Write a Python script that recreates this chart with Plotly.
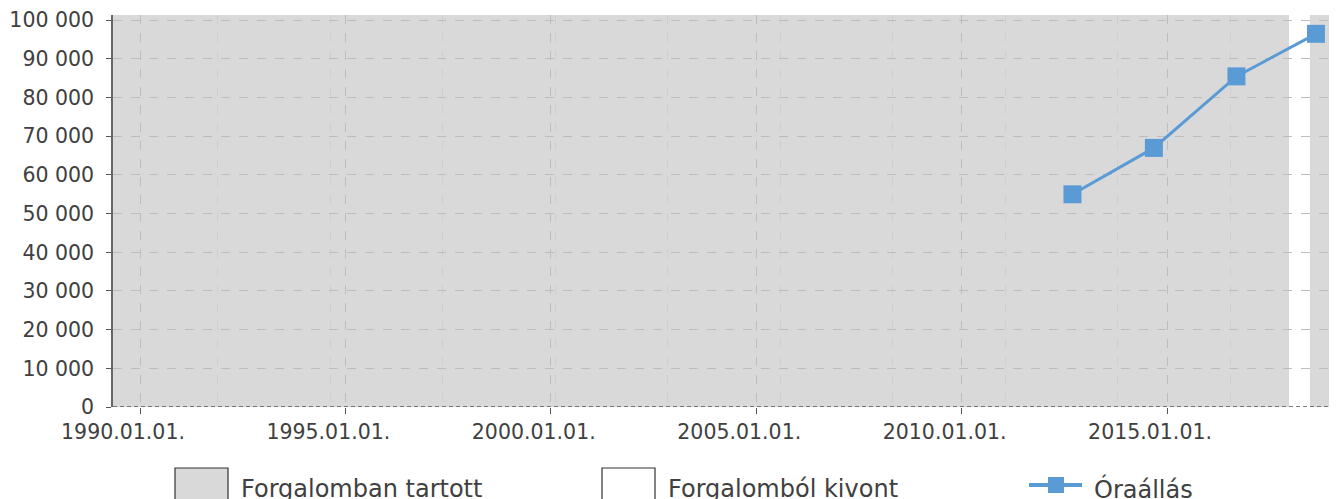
import plotly.graph_objects as go

# ---- data ----
reading_dates = ["2012-09-12", "2014-09-06", "2016-09-09", "2018-08-17"]
hour_meter = [55000, 67000, 85500, 96500]

in_service_periods = [("1989-05-06", "2017-12-21"), ("2018-06-23", "2019-02-20")]
withdrawn_periods = [("2017-12-21", "2018-06-23")]

x_tick_vals = ["1990-01-01", "1995-01-01", "2000-01-01", "2005-01-01", "2010-01-01", "2015-01-01"]
x_tick_text = ["1990.01.01.", "1995.01.01.", "2000.01.01.", "2005.01.01.", "2010.01.01.", "2015.01.01."]
y_tick_vals = [0, 10000, 20000, 30000, 40000, 50000, 60000, 70000, 80000, 90000, 100000]
y_tick_text = ["0", "10 000", "20 000", "30 000", "40 000", "50 000", "60 000",
               "70 000", "80 000", "90 000", "100 000"]

legend_labels = ["Forgalomban tartott", "Forgalomból kivont", "Óraállás"]

# ---- styles ----
OFF = 8  # page body margin
W, H = 1337 - OFF, 499 - OFF
ML, MR, MT = 113 - OFF, 0, 15 - OFF
PB = 407 - OFF
MB = H - PB
PW, PH = W - ML - MR, H - MT - MB
GRAY = "#d9d9d9"
BLUE = "#5b9bd5"
TXT = "#404040"
FONT = "DejaVu Sans"


def px_x(p):
    return (p - OFF - ML) / PW


def px_y(p):
    return (PB - (p - OFF)) / PH


fig = go.Figure()

fig.add_trace(go.Scatter(
    x=reading_dates, y=hour_meter, mode="lines+markers",
    line=dict(color=BLUE, width=3),
    marker=dict(symbol="square", size=18, color=BLUE, line=dict(width=0)),
    name=legend_labels[2], showlegend=False, cliponaxis=False,
))

shapes = []
for a, b in in_service_periods:
    shapes.append(dict(type="rect", xref="x", yref="paper", x0=a, x1=b, y0=0, y1=1,
                       fillcolor=GRAY, line=dict(width=0), layer="below"))
for a, b in withdrawn_periods:
    shapes.append(dict(type="rect", xref="x", yref="paper", x0=a, x1=b, y0=0, y1=1,
                       fillcolor="white", line=dict(width=0), layer="below"))
# dashed baseline
shapes.append(dict(type="line", xref="paper", yref="y", x0=0, x1=1, y0=0, y1=0,
                   line=dict(color="#555555", width=1.5, dash="4px,3px"), layer="above"))

# custom legend
box_top, box_bot = 468, 503
shapes.append(dict(type="rect", xref="paper", yref="paper",
                   x0=px_x(175), x1=px_x(228), y0=px_y(box_bot), y1=px_y(box_top),
                   fillcolor=GRAY, line=dict(color="#333333", width=1.2)))
shapes.append(dict(type="rect", xref="paper", yref="paper",
                   x0=px_x(602), x1=px_x(655), y0=px_y(box_bot), y1=px_y(box_top),
                   fillcolor="white", line=dict(color="#333333", width=1.2)))
shapes.append(dict(type="line", xref="paper", yref="paper",
                   x0=px_x(1029), x1=px_x(1082), y0=px_y(485), y1=px_y(485),
                   line=dict(color=BLUE, width=4)))
shapes.append(dict(type="rect", xref="paper", yref="paper",
                   x0=px_x(1048), x1=px_x(1064), y0=px_y(493), y1=px_y(477),
                   fillcolor=BLUE, line=dict(width=0)))

annotations = []
for lbl, xp in zip(legend_labels, [242, 669, 1095]):
    annotations.append(dict(text=lbl, xref="paper", yref="paper", x=px_x(xp - 3), y=px_y(489),
                            xanchor="left", yanchor="middle", showarrow=False,
                            font=dict(family=FONT, size=24, color=TXT)))

fig.update_layout(
    width=W, height=H,
    margin=dict(l=ML, r=MR, t=MT, b=MB, pad=0),
    paper_bgcolor="white", plot_bgcolor="white",
    showlegend=False,
    shapes=shapes, annotations=annotations,
    font=dict(family=FONT, size=20.5, color=TXT),
)

fig.update_xaxes(
    type="date", range=["1989-05-06", "2019-02-20"],
    tickvals=x_tick_vals, ticktext=x_tick_text,
    ticks="outside", ticklen=6, tickcolor="#555555", tickwidth=1,
    ticklabelshift=-17,
    showgrid=True, gridcolor="#bdbdbd", griddash="dash", gridwidth=1,
    minor=dict(dtick=1000 * 86400000, tick0="1991-11-25", showgrid=True,
               gridcolor="#cfcfcf", griddash="dash", gridwidth=1, ticks=""),
    showline=False, zeroline=False,
    tickfont=dict(family=FONT, size=20.5, color=TXT),
)
fig.update_yaxes(
    range=[0, 101370],
    tickvals=y_tick_vals, ticktext=y_tick_text,
    ticks="outside", ticklen=5, tickcolor="#555555", tickwidth=1,
    ticklabelstandoff=8,
    showgrid=True, gridcolor="#bdbdbd", griddash="dash", gridwidth=1,
    showline=True, linecolor="#666666", linewidth=1.5,
    zeroline=False,
    tickfont=dict(family=FONT, size=20.5, color=TXT),
)

fig.write_html("out.html")
